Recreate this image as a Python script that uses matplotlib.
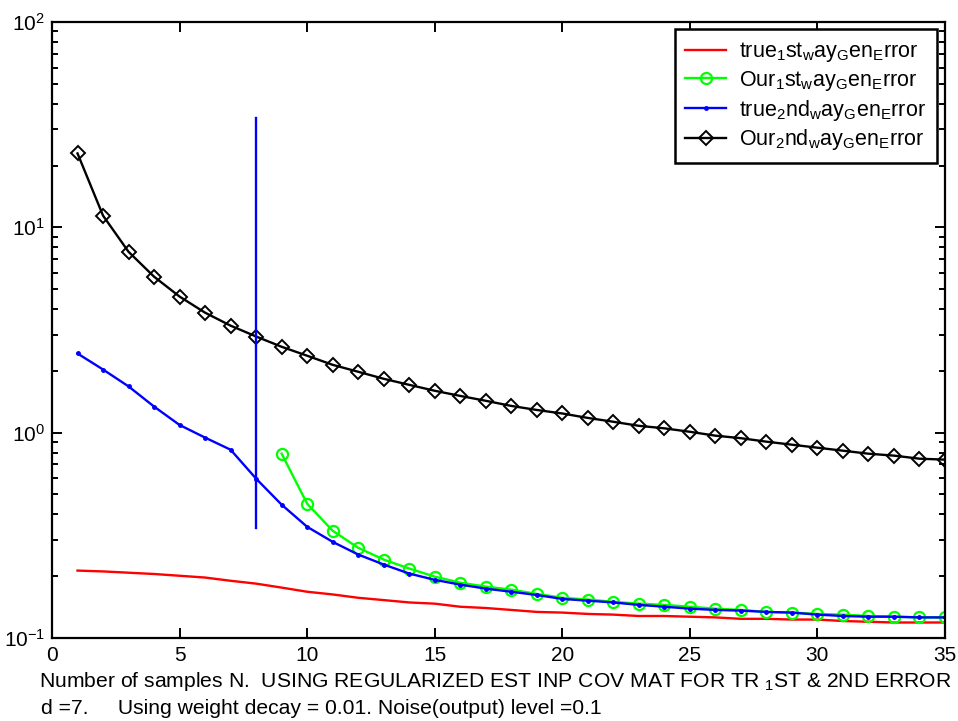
import numpy as np
from matplotlib import pyplot as plt

plt.rcParams['font.family'] = ['Liberation Sans', 'DejaVu Sans']
plt.rcParams['mathtext.fontset'] = 'custom'
plt.rcParams['mathtext.rm'] = 'Liberation Sans'
plt.rcParams['mathtext.it'] = 'Liberation Sans:italic'
plt.rcParams['mathtext.default'] = 'rm'

# sample counts
n = np.arange(1, 36)

# true 1st-way generalization error (whole range)
true_1st = [0.213, 0.211, 0.208, 0.205, 0.201, 0.197, 0.190, 0.184, 0.176, 0.168,
            0.163, 0.157, 0.153, 0.149, 0.147, 0.142, 0.140, 0.137, 0.134, 0.133,
            0.131, 0.130, 0.128, 0.128, 0.127, 0.126, 0.124, 0.124, 0.123, 0.123,
            0.121, 0.120, 0.119, 0.119, 0.119]

# our estimate of the 1st-way error (starts at N = 9)
n_our1 = np.arange(9, 36)
our_1st = [0.79, 0.451, 0.333, 0.275, 0.241, 0.218, 0.199, 0.186, 0.178, 0.172,
           0.164, 0.157, 0.154, 0.150, 0.147, 0.145, 0.142, 0.139, 0.137, 0.134,
           0.133, 0.131, 0.130, 0.128, 0.127, 0.126, 0.126]

true_2nd = [2.43, 2.03, 1.68, 1.34, 1.09, 0.946, 0.826, 0.597, 0.446, 0.348,
            0.294, 0.255, 0.228, 0.206, 0.192, 0.182, 0.174, 0.168, 0.162, 0.155,
            0.152, 0.149, 0.145, 0.142, 0.139, 0.137, 0.136, 0.134, 0.133, 0.130,
            0.128, 0.127, 0.127, 0.126, 0.126]

our_2nd = [22.9, 11.4, 7.6, 5.75, 4.6, 3.84, 3.32, 2.94, 2.62, 2.37,
           2.14, 1.98, 1.83, 1.71, 1.60, 1.51, 1.43, 1.35, 1.29, 1.24,
           1.18, 1.13, 1.08, 1.05, 1.01, 0.967, 0.94, 0.904, 0.874, 0.845,
           0.817, 0.79, 0.773, 0.747, 0.739]

# marker line at d+1 samples
d_line_x = [8, 8]
d_line_y = [0.344, 34.2]

fig = plt.figure(figsize=(9.58, 7.21), dpi=100)
ax = fig.add_axes([0.0543, 0.1151, 0.9321, 0.8544])

ax.semilogy(n, true_1st, linestyle='-', color='#ff0000', lw=1.7,
            label=r'true$_1$st$_\mathrm{w}$ay$_\mathrm{G}$en$_\mathrm{E}$rror')
ax.semilogy(n_our1, our_1st, linestyle='-', marker='o', color='#00ff00', lw=1.7, ms=8,
            mfc='none', mew=1.6,
            label=r'Our$_1$st$_\mathrm{w}$ay$_\mathrm{G}$en$_\mathrm{E}$rror')
ax.semilogy(n, true_2nd, linestyle='-', marker='.', color='#0000ff', lw=1.7, ms=5,
            label=r'true$_2$nd$_\mathrm{w}$ay$_\mathrm{G}$en$_\mathrm{E}$rror')
ax.semilogy(n, our_2nd, linestyle='-', marker='D', color='black', lw=1.7, ms=7,
            mfc='none', mew=1.4,
            label=r'Our$_2$nd$_\mathrm{w}$ay$_\mathrm{G}$en$_\mathrm{E}$rror')
ax.semilogy(d_line_x, d_line_y, linestyle='-', color='#0000ff', lw=1.7)

ax.set_xlim(0, 35)
ax.set_ylim(0.1, 100)
ax.set_xticks(np.arange(0, 36, 5))

for s in ax.spines.values():
    s.set_linewidth(1.6)
ax.tick_params(which='both', direction='in', top=True, right=True, width=1.4)
ax.tick_params(which='major', length=7, labelsize=15)
ax.tick_params(which='minor', length=4)
ax.tick_params(axis='x', pad=6)
ax.tick_params(axis='y', pad=5)

leg = ax.legend(loc='upper right', bbox_to_anchor=(0.991, 0.988), borderaxespad=0,
                fontsize=15.5, fancybox=False, framealpha=1, edgecolor='black',
                handlelength=1.9, handletextpad=0.6, labelspacing=0.22, borderpad=0.5)
leg.get_frame().set_linewidth(1.8)

fig.text(0.041, 0.0472,
         r'Number of samples N.  USING REGULARIZED EST INP COV MAT FOR TR $_1$ST & 2ND ERROR',
         fontsize=15.2, ha='left', va='baseline')
fig.text(0.043, 0.0097,
         'd =7.     Using weight decay = 0.01. Noise(output) level =0.1',
         fontsize=15.2, ha='left', va='baseline')

fig.savefig('out.png', dpi=100)
